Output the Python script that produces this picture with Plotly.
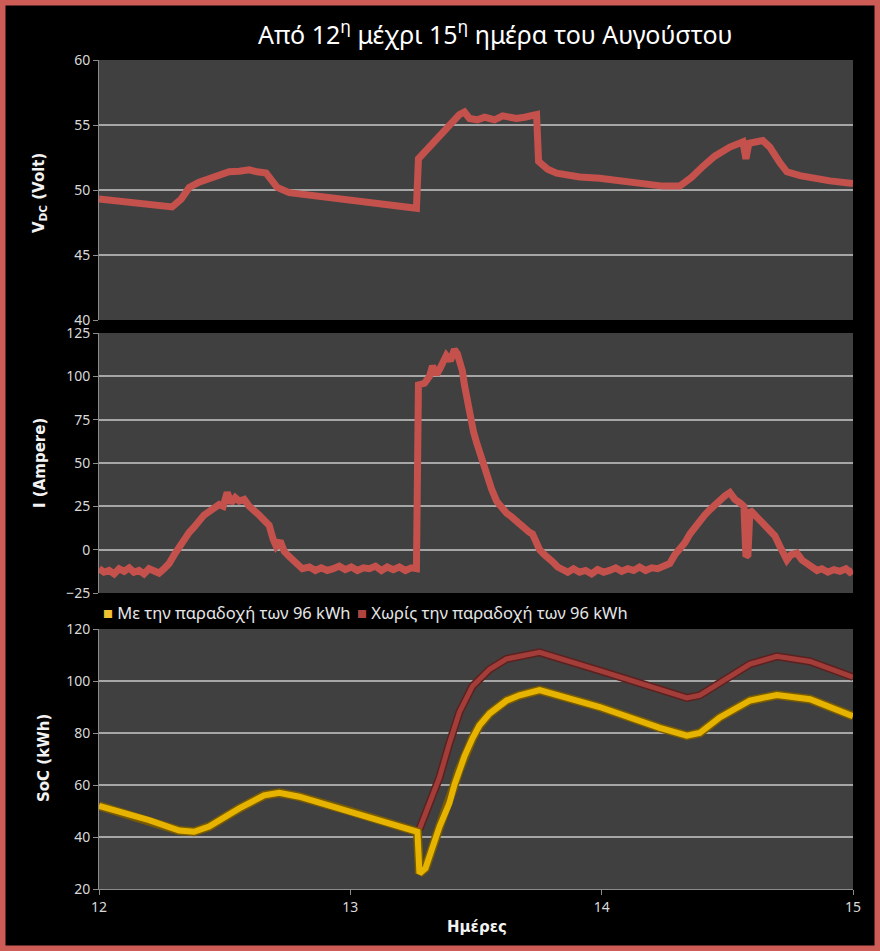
import plotly.graph_objects as go

# ---------------- data ----------------
days_ticks = [12, 13, 14, 15]
tick_labels = ["12", "13", "14", "15"]

volt_day = [12.000, 12.060, 12.120, 12.179, 12.239, 12.291, 12.327, 12.359, 12.398, 12.458,
            12.518, 12.558, 12.598, 12.629, 12.665, 12.685, 12.709, 12.757, 12.837, 12.916,
            12.996, 13.076, 13.155, 13.215, 13.263, 13.271, 13.315, 13.382, 13.434, 13.454,
            13.474, 13.506, 13.534, 13.554, 13.574, 13.606, 13.633, 13.661, 13.693, 13.713,
            13.741, 13.749, 13.785, 13.821, 13.912, 13.992, 14.112, 14.243, 14.311, 14.359,
            14.402, 14.450, 14.510, 14.562, 14.574, 14.586, 14.641, 14.669, 14.709, 14.737,
            14.789, 14.841, 14.908, 15.000]
volt_v = [49.3, 49.2, 49.05, 48.95, 48.8, 48.7, 49.3, 50.2, 50.6, 51.0,
          51.4, 51.45, 51.55, 51.4, 51.3, 50.8, 50.2, 49.8, 49.6, 49.4,
          49.3, 49.0, 48.8, 48.7, 48.6, 52.4, 53.3, 54.6, 55.8, 56.0,
          55.5, 55.4, 55.6, 55.5, 55.4, 55.7, 55.6, 55.5, 55.6, 55.7,
          55.8, 52.2, 51.6, 51.3, 51.0, 50.9, 50.6, 50.3, 50.3, 51.0,
          51.8, 52.6, 53.3, 53.7, 52.4, 53.6, 53.8, 53.3, 52.1, 51.4,
          51.1, 50.9, 50.7, 50.5]

cur_day = [12.000, 12.020, 12.040, 12.060, 12.080, 12.100, 12.120, 12.139, 12.159, 12.179,
           12.199, 12.219, 12.239, 12.259, 12.279, 12.299, 12.319, 12.339, 12.359, 12.378,
           12.398, 12.418, 12.438, 12.458, 12.478, 12.494, 12.510, 12.526, 12.542, 12.558,
           12.578, 12.598, 12.618, 12.637, 12.657, 12.677, 12.693, 12.705, 12.721, 12.737,
           12.757, 12.777, 12.797, 12.809, 12.837, 12.861, 12.884, 12.908, 12.932, 12.956,
           12.980, 13.004, 13.028, 13.052, 13.076, 13.100, 13.124, 13.147, 13.171, 13.195,
           13.219, 13.243, 13.263, 13.271, 13.295, 13.315, 13.327, 13.343, 13.355, 13.371,
           13.382, 13.398, 13.414, 13.426, 13.434, 13.446, 13.454, 13.466, 13.474, 13.490,
           13.502, 13.522, 13.542, 13.562, 13.582, 13.602, 13.622, 13.641, 13.657, 13.673,
           13.693, 13.713, 13.725, 13.737, 13.753, 13.773, 13.793, 13.805, 13.825, 13.845,
           13.865, 13.888, 13.912, 13.936, 13.960, 13.984, 14.008, 14.032, 14.056, 14.080,
           14.104, 14.127, 14.151, 14.175, 14.199, 14.223, 14.247, 14.271, 14.291, 14.311,
           14.331, 14.351, 14.371, 14.390, 14.410, 14.430, 14.450, 14.470, 14.490, 14.510,
           14.530, 14.550, 14.566, 14.574, 14.582, 14.590, 14.610, 14.629, 14.649, 14.669,
           14.689, 14.709, 14.725, 14.737, 14.753, 14.777, 14.797, 14.817, 14.837, 14.857,
           14.876, 14.900, 14.924, 14.948, 14.972, 14.988, 15.000]
cur_a = [-11, -13, -12, -14, -11, -12.5, -10.5, -13, -12, -14,
         -11, -12, -13.5, -11, -8, -3, 2, 6, 10, 13,
         17, 20, 22, 24, 26, 25, 33, 27, 30, 28,
         29, 25, 23, 20, 17, 14, 6, 2, 5, -1,
         -4, -7, -9, -11, -10, -12, -10.5, -12, -11, -9.5,
         -11.5, -10, -12, -10.5, -11, -9.5, -12, -10, -11.5, -10,
         -12, -10.5, -11, 95, 96, 100, 106, 101, 104, 108,
         112, 109, 115.5, 113, 110, 103, 95, 85, 77, 68,
         62, 52, 43, 35, 28, 24, 21, 19, 17, 14,
         12, 10, 9, 5, 0, -3, -5, -7, -10, -12,
         -13, -11, -13, -12, -14, -11.5, -13, -12, -10.5, -12.5,
         -11, -12, -10, -12, -10.5, -11, -9.5, -8, -3, 0,
         4, 9, 13, 16, 20, 23, 26, 29, 31, 33,
         29, 27, 25, -4, -3, 23, 20, 18, 15, 12,
         8, 2, -2, -6, -3, -2, -6, -8, -10, -12,
         -11, -13, -11.5, -12.5, -11, -13, -12]

soc_with_day = [12.000, 12.199, 12.319, 12.378, 12.438, 12.558, 12.657, 12.717, 12.797, 12.996,
                13.267, 13.275, 13.299, 13.355, 13.375, 13.394, 13.414, 13.434, 13.454, 13.486,
                13.514, 13.554, 13.622, 13.673, 13.753, 13.992, 14.231, 14.339, 14.390, 14.470,
                14.590, 14.697, 14.829, 15.000]
soc_with_kwh = [52, 46.5, 42.5, 42, 44, 51, 56, 57, 55.5, 50,
                42, 26, 28, 44, 49, 53, 60, 66, 71, 78,
                83, 87.5, 92.5, 94.5, 96.5, 90, 82, 79, 80, 86,
                92.5, 94.6, 93, 86.5]

soc_without_day = [13.275, 13.315, 13.355, 13.394, 13.434, 13.486, 13.554, 13.622, 13.753, 13.992,
                   14.231, 14.339, 14.390, 14.470, 14.590, 14.697, 14.829, 15.000]
soc_without_kwh = [43, 53, 63, 76, 88, 98, 104.5, 108.5, 111, 104,
                   97, 93.5, 94.5, 99.5, 106.5, 109.5, 107.5, 101.5]

series_names = ["Με την παραδοχή των 96 kWh", "Χωρίς την παραδοχή των 96 kWh"]

# ---------------- style ----------------
W, H = 880, 951
X0, X1 = 99 / W, 853 / W
def ydom(top, bottom):
    return [1 - bottom / H, 1 - top / H]

LINE_RED = "#c4514c"
SOC_RED = "#a33d39"
SOC_YEL = "#e6b400"
TICK_FONT = dict(family="Noto Sans", size=14, color="#d9d9d9")
TITLE_FONT = dict(family="DejaVu Sans", size=15, color="#f2f2f2")

fig = go.Figure()

fig.add_trace(go.Scatter(x=volt_day, y=volt_v, mode="lines", xaxis="x", yaxis="y",
                         line=dict(color=LINE_RED, width=7), showlegend=False))
fig.add_trace(go.Scatter(x=cur_day, y=cur_a, mode="lines", xaxis="x2", yaxis="y2",
                         line=dict(color=LINE_RED, width=7), showlegend=False))

# SoC: dark outline underneath, then the coloured line
fig.add_trace(go.Scatter(x=soc_without_day, y=soc_without_kwh, mode="lines", xaxis="x3", yaxis="y3",
                         line=dict(color="#5c211f", width=8), showlegend=False, hoverinfo="skip"))
fig.add_trace(go.Scatter(x=soc_without_day, y=soc_without_kwh, mode="lines", xaxis="x3", yaxis="y3",
                         line=dict(color=SOC_RED, width=5), showlegend=False, name=series_names[1]))
fig.add_trace(go.Scatter(x=soc_with_day, y=soc_with_kwh, mode="lines", xaxis="x3", yaxis="y3",
                         line=dict(color="#7a5c00", width=9), showlegend=False, hoverinfo="skip"))
fig.add_trace(go.Scatter(x=soc_with_day, y=soc_with_kwh, mode="lines", xaxis="x3", yaxis="y3",
                         line=dict(color=SOC_YEL, width=6), showlegend=False, name=series_names[0]))

common_x = dict(range=[12, 15], domain=[X0, X1], showgrid=False, zeroline=False, automargin=False)
common_y = dict(showgrid=True, gridcolor="#a6a6a6", gridwidth=2, zeroline=False,
                showline=True, linecolor="#8c8c8c", linewidth=1, ticks="outside",
                ticklen=5, tickcolor="#8c8c8c", tickfont=TICK_FONT, automargin=False)

LEG_FONT = dict(family="Noto Sans", size=16.5, color="#e6e6e6")

fig.update_layout(
    width=W, height=H,
    margin=dict(l=0, r=0, t=0, b=0, autoexpand=False),
    paper_bgcolor="#000000",
    plot_bgcolor="#404040",
    showlegend=False,
    xaxis=dict(**common_x, anchor="y", showticklabels=False, showline=False, ticks=""),
    xaxis2=dict(**common_x, anchor="y2", showticklabels=False, showline=False, ticks=""),
    xaxis3=dict(**common_x, anchor="y3", showticklabels=True, showline=True,
                linecolor="#8c8c8c", ticks="outside", ticklen=5, tickcolor="#8c8c8c",
                tickvals=days_ticks, ticktext=tick_labels, tickfont=TICK_FONT),
    yaxis=dict(**common_y, domain=ydom(60, 320), range=[40, 60], dtick=5),
    yaxis2=dict(**common_y, domain=ydom(333, 593), range=[-25, 125], dtick=25),
    yaxis3=dict(**common_y, domain=ydom(629, 889), range=[20, 120], dtick=20),
    annotations=[
        dict(text="Από 12<sup>η</sup> μέχρι 15<sup>η</sup> ημέρα του Αυγούστου",
             x=495 / W, y=1 - 32 / H, xref="paper", yref="paper", showarrow=False,
             xanchor="center", yanchor="middle",
             font=dict(family="Noto Sans", size=25, color="#ffffff")),
        dict(text='<span style="color:#f0c030">■</span> ' + series_names[0],
             x=101 / W, y=1 - 612 / H, xref="paper", yref="paper", showarrow=False,
             xanchor="left", yanchor="middle", font=LEG_FONT),
        dict(text='<span style="color:#b04540">■</span> ' + series_names[1],
             x=355 / W, y=1 - 612 / H, xref="paper", yref="paper", showarrow=False,
             xanchor="left", yanchor="middle", font=LEG_FONT),
        dict(text="<b>V<sub>DC</sub> (Volt)</b>", x=40 / W, y=1 - 193 / H, xref="paper", yref="paper",
             showarrow=False, textangle=-90, xanchor="center", yanchor="middle", font=TITLE_FONT),
        dict(text="<b>I (Ampere)</b>", x=40 / W, y=1 - 463 / H, xref="paper", yref="paper",
             showarrow=False, textangle=-90, xanchor="center", yanchor="middle", font=TITLE_FONT),
        dict(text="<b>SoC (kWh)</b>", x=44 / W, y=1 - 758 / H, xref="paper", yref="paper",
             showarrow=False, textangle=-90, xanchor="center", yanchor="middle", font=TITLE_FONT),
        dict(text="<b>Ημέρες</b>", x=477 / W, y=1 - 927 / H, xref="paper", yref="paper",
             showarrow=False, xanchor="center", yanchor="middle", font=TITLE_FONT),
    ],
    shapes=[dict(type="rect", xref="paper", yref="paper", x0=0, y0=0, x1=1, y1=1,
                 line=dict(color="#cd5b56", width=11), layer="above")],
)

fig.write_html("out.html", config={"displayModeBar": False},
               post_script="document.body.style.margin='0';document.body.style.background='#000';")
